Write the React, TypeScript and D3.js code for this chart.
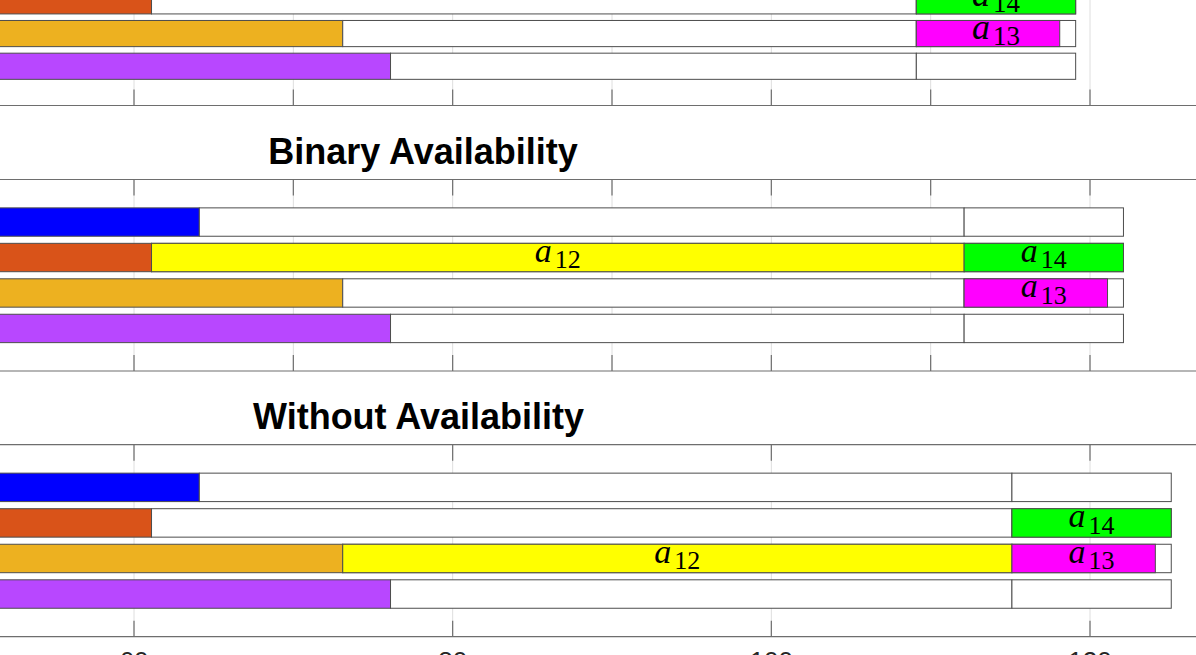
import React, { useEffect, useRef } from 'react'
import * as d3 from 'd3'

// Machines (rows) and their initial busy periods
const machines = ['M1', 'M2', 'M3', 'M4']
const machineColors = ['#0000ff', '#d95319', '#edb120', '#b847ff']
const busyStart = [50, 50, 50, 50]
const busyEnd = [64.1, 61.1, 73.1, 76.1]

// Panels: the first one is cut off by the crop
const panelTitles = ['', 'Binary Availability', 'Without Availability']
const splitTimes = [109.1, 112.1, 115.1]
const horizonEnds = [119.1, 122.1, 125.1]

// Tasks a12, a14, a13 for each panel
const taskNames = ['12', '14', '13']
const taskColors = ['#ffff00', '#00ff00', '#ff00ff']
const taskMachines = [
  [0, 1, 2],
  [1, 1, 2],
  [2, 1, 2],
]
const taskStarts = [
  [64.1, 109.1, 109.1],
  [61.1, 112.1, 112.1],
  [73.1, 115.1, 115.1],
]
const taskEnds = [
  [109.1, 119.1, 118.1],
  [112.1, 122.1, 121.1],
  [115.1, 125.1, 124.1],
]

const panelTicks = [
  [50, 60, 70, 80, 90, 100, 110, 120, 130],
  [50, 60, 70, 80, 90, 100, 110, 120, 130],
  [40, 60, 80, 100, 120, 140],
]
const bottomTickLabels = ['40', '60', '80', '100', '120', '140']

const W = 1196
const H = 655

// layout of each panel (pixels)
const layout = [
  { top: -71.1, bottom: 105.5, aSize: 36, subSize: 27, subShift: 6, titleX: 423 },
  { top: 179.5, bottom: 371, aSize: 34, subSize: 26, subShift: 6.5, titleX: 423 },
  { top: 444.7, bottom: 636.7, aSize: 34, subSize: 26, subShift: 6.5, titleX: 418.5 },
]

export default function App() {
  const svgRef = useRef<SVGSVGElement>(null)

  useEffect(() => {
    if (!svgRef.current) return
    const svg = d3.select(svgRef.current)
    svg.selectAll('*').remove()

    const x = d3.scaleLinear().domain([60, 120]).range([134, 1090])
    const axisLo = x(40)
    const axisHi = x(140)

    panelTitles.forEach((title, p) => {
      const L = layout[p]
      const g = svg.append('g')
      const y = d3.scaleLinear().domain([-0.2, 5.2]).range([L.top, L.bottom])
      const step = y(1) - y(0)
      const barH = step * 0.8

      // grid
      g.selectAll('.grid')
        .data(panelTicks[p])
        .join('line')
        .attr('x1', (d) => x(d))
        .attr('x2', (d) => x(d))
        .attr('y1', L.top)
        .attr('y2', L.bottom)
        .attr('stroke', '#dedede')
        .attr('stroke-width', 1)

      const split = splitTimes[p]
      const horizon = horizonEnds[p]

      machines.forEach((_, i) => {
        const cy = y(i + 1)
        const rows = [
          { s: busyStart[i], e: busyEnd[i], fill: machineColors[i] },
          { s: busyEnd[i], e: split, fill: '#ffffff' },
          { s: split, e: horizon, fill: '#ffffff' },
        ]
        g.selectAll(null)
          .data(rows)
          .join('rect')
          .attr('x', (d) => x(d.s))
          .attr('width', (d) => x(d.e) - x(d.s))
          .attr('y', cy - barH / 2)
          .attr('height', barH)
          .attr('fill', (d) => d.fill)
          .attr('stroke', '#4d4d4d')
          .attr('stroke-width', 1)
      })

      // tasks
      taskNames.forEach((name, t) => {
        const m = taskMachines[p][t]
        const s = taskStarts[p][t]
        const e = taskEnds[p][t]
        const cy = y(m + 1)
        g.append('rect')
          .attr('x', x(s))
          .attr('width', x(e) - x(s))
          .attr('y', cy - barH / 2)
          .attr('height', barH)
          .attr('fill', taskColors[t])
          .attr('stroke', '#4d4d4d')
          .attr('stroke-width', 1)
      })

      taskNames.forEach((name, t) => {
        const m = taskMachines[p][t]
        const s = taskStarts[p][t]
        const slotEnd = s >= split ? horizon : split
        const cy = y(m + 1)
        const xh = 0.45 * L.aSize
        const base = cy + (xh - L.subShift) / 2
        const txt = g
          .append('text')
          .attr('x', x((s + slotEnd) / 2))
          .attr('y', base)
          .attr('text-anchor', 'middle')
          .attr('font-family', '"Liberation Serif", "Times New Roman", serif')
          .attr('fill', '#000')
        txt.append('tspan').attr('font-style', 'italic').attr('font-size', L.aSize).text('a')
        txt
          .append('tspan')
          .attr('font-size', L.subSize)
          .attr('dx', 3)
          .attr('dy', L.subShift)
          .text(name)
      })

      // axes box lines
      ;[L.top, L.bottom].forEach((yy) => {
        g.append('line')
          .attr('x1', axisLo)
          .attr('x2', axisHi)
          .attr('y1', yy)
          .attr('y2', yy)
          .attr('stroke', '#6e6e6e')
          .attr('stroke-width', 1.2)
      })

      // ticks, inward on both sides
      const tickLen = 16
      g.selectAll('.tickTop')
        .data(panelTicks[p])
        .join('line')
        .attr('x1', (d) => x(d))
        .attr('x2', (d) => x(d))
        .attr('y1', L.top)
        .attr('y2', L.top + tickLen)
        .attr('stroke', '#6e6e6e')
        .attr('stroke-width', 1.2)
      g.selectAll('.tickBottom')
        .data(panelTicks[p])
        .join('line')
        .attr('x1', (d) => x(d))
        .attr('x2', (d) => x(d))
        .attr('y1', L.bottom - tickLen)
        .attr('y2', L.bottom)
        .attr('stroke', '#6e6e6e')
        .attr('stroke-width', 1.2)

      if (title) {
        g.append('text')
          .attr('x', L.titleX)
          .attr('y', L.top - 15.5)
          .attr('text-anchor', 'middle')
          .attr('font-family', '"Liberation Sans", Arial, Helvetica, sans-serif')
          .attr('font-weight', 'bold')
          .attr('font-size', 36)
          .attr('fill', '#000')
          .text(title)
      }

      if (p === panelTitles.length - 1) {
        g.selectAll('.tickLabel')
          .data(panelTicks[p])
          .join('text')
          .attr('x', (d) => x(d))
          .attr('y', L.bottom + 33)
          .attr('text-anchor', 'middle')
          .attr('font-family', '"Liberation Sans", Arial, Helvetica, sans-serif')
          .attr('font-size', 26)
          .attr('fill', '#262626')
          .text((d, i) => bottomTickLabels[i])
      }
    })
  }, [])

  return (
    <svg
      ref={svgRef}
      width={W}
      height={H}
      style={{ position: 'absolute', left: 0, top: 0, background: '#fff' }}
    ></svg>
  )
}
